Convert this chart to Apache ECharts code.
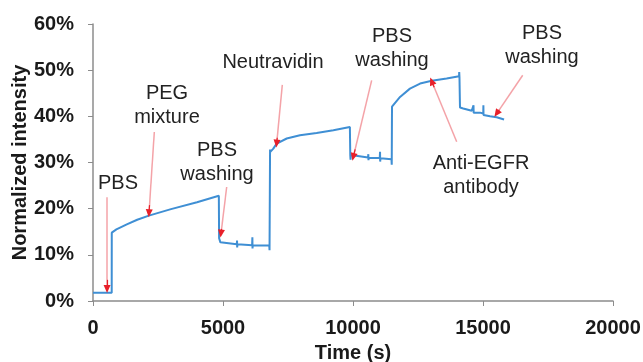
<!DOCTYPE html>
<html>
<head>
<meta charset="utf-8">
<script src="https://cdn.jsdelivr.net/npm/echarts@6/dist/echarts.min.js"></script>
<style>html,body{margin:0;padding:0;background:#fff}#c{width:643px;height:362px}</style>
</head>
<body>
<div id="c"></div>
<script>
// Time (s)
var timeS = [0, 720, 722, 900, 1300, 1700, 2150, 3000, 4000, 4840, 4850, 4900, 4950,
  5530, 5540, 5545, 5555, 6120, 6130, 6135, 6145, 6780, 6790, 6810, 6820, 6935, 7065,
  7450, 7960, 8600, 9245, 9880, 9895, 9905, 9920, 9960, 10580, 10590, 10595, 10605,
  11030, 11040, 11045, 11055, 11480, 11490, 11500, 11550, 11810, 12190, 12580, 13030,
  13600, 14080, 14085, 14095, 14115, 14240, 14565, 14630, 14635, 14640, 14650, 14885,
  15010, 15015, 15020, 15030, 15270, 15525, 15810];
// Normalized intensity (%)
var intensity = [1.8, 1.8, 14.8, 15.5, 16.6, 17.6, 18.5, 19.9, 21.4, 22.8, 13.6, 12.7, 12.6,
  12.3, 13.1, 11.6, 12.3, 12.1, 13.8, 11.4, 12.1, 12.0, 11.0, 32.8, 32.3, 33.0, 34.1,
  35.2, 35.9, 36.4, 37.0, 37.7, 31.6, 30.6, 31.6, 31.2, 31.1, 31.8, 30.5, 31.0,
  31.0, 32.3, 30.2, 30.9, 30.7, 29.5, 42.1, 42.3, 44.2, 46.0, 47.1, 47.7,
  48.2, 48.7, 49.6, 48.5, 41.9, 41.7, 41.2, 41.1, 42.4, 40.8, 41.1, 40.8,
  40.6, 42.4, 40.3, 40.5, 40.0, 39.8, 39.3];

var xTicks = [0, 5000, 10000, 15000, 20000];
var yTicks = [0, 10, 20, 30, 40, 50, 60];

// Annotation texts and their anchor positions (data units)
var noteText = ['PBS', 'PEG\nmixture', 'PBS\nwashing', 'Neutravidin', 'PBS\nwashing', 'Anti-EGFR\nantibody', 'PBS\nwashing'];
var noteX = [962, 2846, 4770, 6923, 11500, 14923, 17269];
var noteY = [25.5, 42.4, 30.1, 51.7, 54.7, 27.1, 55.3];
// Arrows: start -> end (data units)
var arrowX0 = [540, 2358, 5142, 7281, 10718, 13988, 16527];
var arrowY0 = [22.5, 36.6, 24.7, 46.8, 47.8, 34.5, 48.9];
var arrowX1 = [540, 2154, 4923, 7064, 10012, 13027, 15527];
var arrowY1 = [2.6, 19.0, 14.6, 34.1, 31.2, 47.6, 40.6];

var seriesData = timeS.map(function (t, i) { return [t, intensity[i]]; });

var markLines = [];
for (var i = 0; i < arrowX0.length; i++) {
  markLines.push([
    {coord: [arrowX0[i], arrowY0[i]], symbol: 'none', lineStyle: {color: '#f4a3a8', width: 1.5, type: 'solid'}},
    {coord: [arrowX1[i], arrowY1[i]], symbol: 'none'}
  ]);
  var f = 0.9;
  var mx = arrowX0[i] + (arrowX1[i] - arrowX0[i]) * f;
  var my = arrowY0[i] + (arrowY1[i] - arrowY0[i]) * f;
  markLines.push([
    {coord: [mx, my], symbol: 'none', lineStyle: {color: '#e8202a', width: 1.2, type: 'solid'}},
    {coord: [arrowX1[i], arrowY1[i]], symbol: 'triangle', symbolSize: [7, 8]}
  ]);
}
var markPoints = noteText.map(function (t, i) {
  return {name: t, coord: [noteX[i], noteY[i]]};
});

var font = '"Liberation Sans", Arial, sans-serif';
var chart = echarts.init(document.getElementById('c'), null, {renderer: 'canvas'});
chart.setOption({
  animation: false,
  backgroundColor: '#ffffff',
  grid: {left: 93, right: 30, top: 24, bottom: 61, containLabel: false, outerBoundsMode: 'none'},
  xAxis: {
    type: 'value', min: xTicks[0], max: xTicks[xTicks.length - 1], interval: 5000,
    name: 'Time (s)', nameLocation: 'middle', nameGap: 42, nameMoveOverlap: false,
    nameTextStyle: {fontFamily: font, fontWeight: 'bold', fontSize: 20, color: '#1a1a1a'},
    axisLine: {show: true, lineStyle: {color: '#8c8c8c', width: 1.5}},
    axisTick: {show: true, length: 5, lineStyle: {color: '#8c8c8c'}},
    axisLabel: {fontFamily: font, fontWeight: 'bold', fontSize: 20, color: '#1a1a1a', margin: 17,
      formatter: function (v) { return String(v); }},
    splitLine: {show: false}
  },
  yAxis: {
    type: 'value', min: yTicks[0], max: yTicks[yTicks.length - 1], interval: 10,
    name: 'Normalized intensity', nameLocation: 'middle', nameGap: 63, nameMoveOverlap: false,
    nameTextStyle: {fontFamily: font, fontWeight: 'bold', fontSize: 20, color: '#1a1a1a'},
    axisLine: {show: true, lineStyle: {color: '#8c8c8c', width: 1.5}},
    axisTick: {show: true, length: 5, lineStyle: {color: '#8c8c8c'}},
    axisLabel: {fontFamily: font, fontWeight: 'bold', fontSize: 20, color: '#1a1a1a', margin: 19, formatter: '{value}%'},
    splitLine: {show: false}
  },
  series: [{
    type: 'line',
    data: seriesData,
    showSymbol: false,
    symbol: 'none',
    lineStyle: {color: '#3f8fd4', width: 2},
    silent: true,
    markLine: {
      silent: true,
      symbol: ['none', 'none'],
      label: {show: false},
      emphasis: {disabled: true},
      data: markLines
    },
    markPoint: {
      silent: true,
      symbol: 'rect',
      symbolSize: 1,
      itemStyle: {color: 'rgba(0,0,0,0)'},
      label: {show: true, position: 'inside', formatter: '{b}', color: '#222222',
        fontFamily: font, fontSize: 20, lineHeight: 24, align: 'center', verticalAlign: 'middle'},
      data: markPoints
    }
  }]
});
</script>
</body>
</html>
